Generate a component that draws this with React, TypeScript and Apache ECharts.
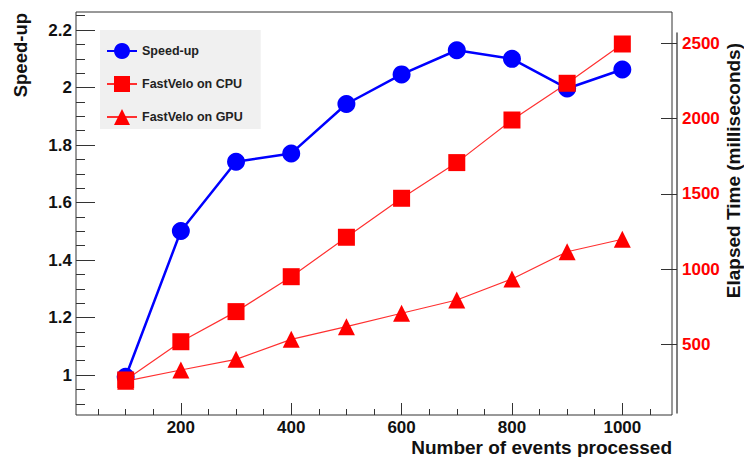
import React, { useEffect, useRef } from "react";
import * as echarts from "echarts";

const events = [100, 200, 300, 400, 500, 600, 700, 800, 900, 1000];
const speedUp = [0.994, 1.501, 1.742, 1.771, 1.943, 2.046, 2.13, 2.1, 1.997, 2.063];
const cpuTime = [263, 517, 717, 949, 1211, 1470, 1707, 1990, 2234, 2495];
const gpuTime = [255, 329, 400, 533, 617, 706, 794, 934, 1115, 1198];

const xMajorTicks = [200, 400, 600, 800, 1000];
const xMinorTicks = [50, 100, 150, 250, 300, 350, 450, 500, 550, 650, 700, 750, 850, 900, 950, 1050];
const leftMajorTicks = [1, 1.2, 1.4, 1.6, 1.8, 2, 2.2];
const leftMinorTicks = [0.9, 0.95, 1.05, 1.1, 1.15, 1.25, 1.3, 1.35, 1.45, 1.5, 1.55, 1.65, 1.7, 1.75, 1.85, 1.9, 1.95, 2.05, 2.1, 2.15, 2.25];
const rightTicks = [500, 1000, 1500, 2000, 2500];

const FONT = "'Liberation Sans', Arial, Helvetica, sans-serif";

export default function App() {
  const ref = useRef<HTMLDivElement>(null);
  useEffect(() => {
    if (!ref.current) return;
    const chart = echarts.init(ref.current, null, { renderer: "svg" });
    const xRange = { min: 10, max: 1090 };
    const leftRange = { min: 0.861, max: 2.263 };
    const rightRange = { min: 43.5, max: 2568 };
    const tickColor = "#333";
    const plain = (v: number) => String(Math.round(v * 1000) / 1000);
    chart.setOption({
      animation: false,
      backgroundColor: "#ffffff",
      grid: [
        { left: 76, right: 72, top: 12, bottom: 42, show: true, borderColor: "#333", borderWidth: 1, backgroundColor: "transparent" },
        { left: 76, right: 72, top: 33, bottom: 44, show: false },
      ],
      xAxis: [
        {
          type: "value", gridIndex: 0, ...xRange, position: "bottom",
          axisLine: { show: false }, splitLine: { show: false },
          axisTick: { show: true, inside: true, length: 12, customValues: xMajorTicks, lineStyle: { color: tickColor } },
          axisLabel: { show: true, customValues: xMajorTicks, formatter: plain, margin: 4, fontFamily: FONT, fontWeight: "bold", fontSize: 17, color: "#111" },
        },
        {
          type: "value", gridIndex: 0, ...xRange, position: "bottom",
          axisLine: { show: false }, splitLine: { show: false },
          axisTick: { show: true, inside: true, length: 6, customValues: xMinorTicks, lineStyle: { color: tickColor } },
          axisLabel: { show: false },
        },
        {
          type: "value", gridIndex: 1, ...xRange, show: false,
        },
      ],
      yAxis: [
        {
          type: "value", gridIndex: 0, ...leftRange, position: "left",
          axisLine: { show: false }, splitLine: { show: false },
          axisTick: { show: true, inside: true, length: 19, customValues: leftMajorTicks, lineStyle: { color: tickColor } },
          axisLabel: { show: true, customValues: leftMajorTicks, formatter: plain, margin: 4, fontFamily: FONT, fontWeight: "bold", fontSize: 17, color: "#111" },
        },
        {
          type: "value", gridIndex: 0, ...leftRange, position: "left",
          axisLine: { show: false }, splitLine: { show: false },
          axisTick: { show: true, inside: true, length: 9, customValues: leftMinorTicks, lineStyle: { color: tickColor } },
          axisLabel: { show: false },
        },
        {
          type: "value", gridIndex: 1, ...rightRange, position: "right", offset: 5,
          axisLine: { show: true, lineStyle: { color: "#555", width: 1.5 } }, splitLine: { show: false },
          axisTick: { show: true, inside: true, length: 16, customValues: rightTicks, lineStyle: { color: tickColor } },
          axisLabel: { show: true, customValues: rightTicks, formatter: plain, margin: 5, fontFamily: FONT, fontWeight: "bold", fontSize: 17, color: "#ff0000" },
        },
      ],
      legend: {
        left: 100, top: 30, orient: "vertical",
        backgroundColor: "#f0f0f0",
        padding: [13, 18, 4, 6],
        itemWidth: 30, itemHeight: 20, itemGap: 17,
        textStyle: { fontFamily: FONT, fontWeight: "bold", fontSize: 12.5, color: "#222" },
        data: ["Speed-up", "FastVelo on CPU", "FastVelo on GPU"],
      },
      graphic: [
        {
          type: "text", x: 20, y: 13, rotation: Math.PI / 2,
          style: { text: "Speed-up", fontFamily: FONT, fontWeight: "bold", fontSize: 18.5, fill: "#111", align: "right", verticalAlign: "middle" },
        },
        {
          type: "text", x: 733, y: 43, rotation: Math.PI / 2,
          style: { text: "Elapsed Time (milliseconds)", fontFamily: FONT, fontWeight: "bold", fontSize: 19, fill: "#111", align: "right", verticalAlign: "middle" },
        },
        {
          type: "text", x: 672, y: 447,
          style: { text: "Number of events processed", fontFamily: FONT, fontWeight: "bold", fontSize: 19, fill: "#111", align: "right", verticalAlign: "middle" },
        },
      ],
      series: [
        {
          name: "Speed-up", type: "line", xAxisIndex: 0, yAxisIndex: 0,
          data: events.map((e, i) => [e, speedUp[i]]),
          symbol: "circle", symbolSize: 18,
          lineStyle: { color: "#0000ff", width: 2.5 },
          itemStyle: { color: "#0000ff" },
        },
        {
          name: "FastVelo on CPU", type: "line", xAxisIndex: 2, yAxisIndex: 2,
          data: events.map((e, i) => [e, cpuTime[i]]),
          symbol: "rect", symbolSize: 17,
          lineStyle: { color: "#ff3030", width: 1.2 },
          itemStyle: { color: "#ff0000" },
        },
        {
          name: "FastVelo on GPU", type: "line", xAxisIndex: 2, yAxisIndex: 2,
          data: events.map((e, i) => [e, gpuTime[i]]),
          symbol: "triangle", symbolSize: 17,
          lineStyle: { color: "#ff3030", width: 1.2 },
          itemStyle: { color: "#ff0000" },
        },
      ],
    });
    return () => chart.dispose();
  }, []);
  return <div ref={ref} style={{ position: "fixed", left: 0, top: 0, width: 744, height: 457 }} />;
}
